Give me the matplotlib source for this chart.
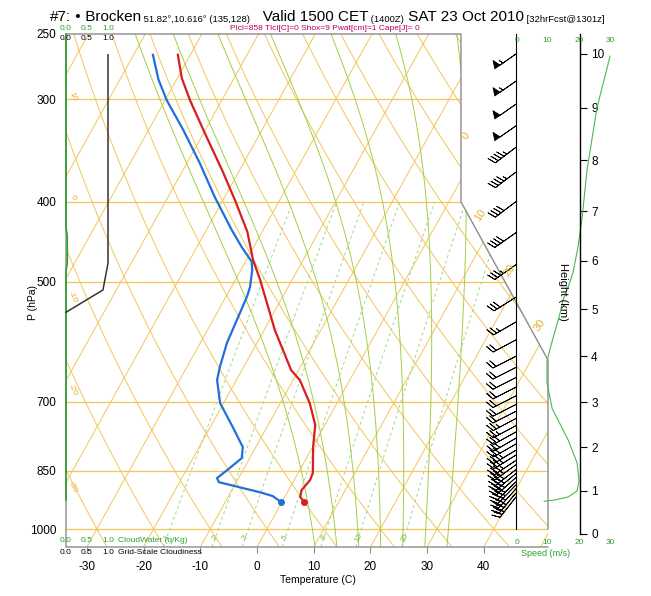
"""Skew-T sounding, Brocken, 23 Oct 2010 (model forecast)."""
import numpy as np
import matplotlib.pyplot as plt
from matplotlib.patches import Polygon
from matplotlib.ticker import NullLocator

plt.rcParams['font.family'] = ['Liberation Sans', 'DejaVu Sans']

W, H = 651, 596
SKEW = 35.0
P_BOT, P_TOP = 1051.7, 250.0
X_LEFT, X_RIGHT = -35.45, 49.56

# temperature profile (hPa, C)
temp_p = [265, 283, 301, 334, 366, 398, 435, 471, 498, 573, 641, 659, 703,
          747, 795, 855, 872, 897, 914, 927]
temp_c = [-62.2, -59.2, -55.6, -49.0, -43.1, -37.9, -32.6, -28.8, -25.6,
          -18.1, -11.3, -8.8, -4.8, -1.7, 0.1, 2.6, 2.8, 2.3, 2.7, 3.9]

# dewpoint profile (hPa, C)
dew_p = [265, 284, 301, 327, 359, 395, 433, 454, 473, 484, 508, 522, 557,
         594, 635, 659, 703, 752, 795, 820, 848, 867, 877, 884, 902, 912, 927]
dew_c = [-66.6, -63.2, -59.7, -53.9, -47.7, -41.7, -35.5, -32.1, -28.9,
         -28.0, -26.7, -26.3, -25.8, -25.3, -24.2, -23.4, -20.6, -16.0,
         -12.3, -11.4, -12.8, -13.8, -13.1, -10.8, -4.9, -2.2, -0.2]

# grid-scale cloudiness and cloud water (hPa, fraction / g/kg)
cloud_p = [265, 475, 512, 545]
cloud_frac = [1.0, 1.0, 0.88, 0.0]
cw_p = [250, 430, 440, 475, 485, 922]
cw_val = [0.0, 0.0, 0.03, 0.03, 0.0, 0.0]

# wind speed profile (km, m/s)
wind_z = [9.96, 9.0, 8.43, 7.81, 6.84, 6.29, 5.75, 5.46, 5.19, 4.92, 4.15,
          3.89, 3.43, 2.86, 2.16, 1.64, 1.24, 1.0, 0.86, 0.79, 0.76]
wind_spd = [29.4, 25.3, 23.8, 22.2, 20.6, 19.4, 17.8, 16.3, 14.7, 13.8, 10.6,
            9.7, 9.7, 11.3, 16.3, 19.1, 19.7, 19.1, 16.3, 12.2, 8.8]

# wind barbs (km, kt, deg)
barb_z = [10.0, 9.5, 9.07, 8.66, 8.25, 7.77, 7.19, 6.57, 5.92, 5.25, 4.73,
          4.35, 4.0, 3.76, 3.54, 3.33, 3.14, 2.95, 2.8, 2.64, 2.48, 2.34,
          2.2, 2.07, 1.93, 1.82, 1.7, 1.6, 1.49, 1.4, 1.31, 1.21, 1.14,
          1.05, 0.95, 0.86]
barb_kt = [55, 53, 51, 50, 45, 45, 42, 40, 37, 32, 27, 22, 20, 19, 19, 19,
           20, 21, 22, 24, 26, 28, 30, 32, 34, 35, 36, 37, 38, 38, 38, 38,
           38, 37, 35, 31]
barb_dir = [235, 235, 235, 235, 233, 233, 233, 235, 235, 238, 240, 242, 243,
            243, 243, 243, 243, 243, 243, 242, 242, 241, 240, 240, 239, 238,
            236, 234, 232, 230, 228, 226, 224, 222, 220, 218]

# background
isobars = [300, 400, 500, 700, 850, 1000]
mix_ratios = [1, 2, 3, 5, 8, 12, 20]
theta_w = [8, 12, 16, 20, 24, 28, 32]
p_ticks = [250, 300, 400, 500, 700, 850, 1000]
t_ticks = [-30, -20, -10, 0, 10, 20, 30, 40]
z_ticks = list(range(11))

YELLOW = '#f2c65a'
GREEN = '#2ca02c'


def skew_x(t, p):
    return np.asarray(t, float) + SKEW * np.log(1000.0 / np.asarray(p, float))


def fxy(x, y):
    return x / W, 1 - y / H


def moist_rate(t, p):
    tk = t + 273.15
    es = 6.112 * np.exp(17.67 * t / (t + 243.5))
    rs = 0.622 * es / (p - es)
    return (287.0 * tk + 2.5e6 * rs) / (
        p * (1004.0 + 2.5e6 ** 2 * rs * 0.622 / (287.0 * tk ** 2)))


def moist_adiabat(t0, p_end, n=150):
    ps = np.linspace(1000.0, p_end, n)
    ts = [np.asarray(t0, float)]
    for p1, p2 in zip(ps[:-1], ps[1:]):
        t = ts[-1]
        k1 = moist_rate(t, p1)
        k2 = moist_rate(t + k1 * (p2 - p1), p2)
        ts.append(t + 0.5 * (k1 + k2) * (p2 - p1))
    return ps, np.array(ts)


def mix_dewpoint(w, p):
    e = w * p / (622.0 + w)
    a = np.log(e / 6.112)
    return 243.5 * a / (17.67 - a)


def z_to_lnp(z):
    z = np.asarray(z, float)
    return -np.log(1013.25 * np.clip(1 - 0.0225577 * z, 1e-6, None) ** 5.25588)


def lnp_to_z(y):
    y = np.asarray(y, float)
    return (1 - (np.exp(-y) / 1013.25) ** (1 / 5.25588)) / 0.0225577


fig = plt.figure(figsize=(6.51, 5.96), dpi=100)
ax = fig.add_axes([66 / W, 1 - 547 / H, 482 / W, 513 / H])
ax.set_yscale('log')
ax.set_ylim(P_BOT, P_TOP)
ax.set_xlim(X_LEFT, X_RIGHT)
for s in ax.spines.values():
    s.set_visible(False)
ax.set_yticks(p_ticks)
ax.set_yticklabels([str(p) for p in p_ticks])
ax.yaxis.set_minor_locator(NullLocator())
ax.tick_params(axis='y', length=0, pad=7, labelsize=8.5)
ax.set_xticks(skew_x(t_ticks, P_BOT))
ax.set_xticklabels([str(t) for t in t_ticks])
ax.tick_params(axis='x', length=4, color='#888888', pad=6, labelsize=8.5)

box_x = [X_LEFT, 34.21, 34.21, X_RIGHT, X_RIGHT, X_LEFT]
box_p = [P_TOP, P_TOP, 400, 623, P_BOT, P_BOT]
clip = Polygon(list(zip(box_x, box_p)), closed=True, transform=ax.transData,
               facecolor='none', edgecolor='none')
ax.add_patch(clip)

p_line = np.geomspace(P_BOT, P_TOP, 200)
lines = []
for t in range(-110, 60, 10):
    lines += ax.plot(skew_x(t, p_line), p_line, color=YELLOW, lw=0.7)
for th in range(-60, 160, 10):
    tt = (th + 273.15) * (p_line / 1000.0) ** 0.2857 - 273.15
    lines += ax.plot(skew_x(tt, p_line), p_line, color=YELLOW, lw=0.7)
for p in isobars:
    lines += ax.plot([X_LEFT, X_RIGHT], [p, p], color=YELLOW, lw=0.9)

for p_end in (P_TOP, P_BOT):
    ps, ts = moist_adiabat(theta_w, p_end)
    for i in range(len(theta_w)):
        lines += ax.plot(skew_x(ts[:, i], ps), ps, color='#a2cf45', lw=0.7)

p_mix = np.geomspace(P_BOT, 400, 60)
for w in mix_ratios:
    lines += ax.plot(skew_x(mix_dewpoint(w, p_mix), p_mix), p_mix,
                     color='#a6d482', lw=0.7, dashes=(3, 3))
    pl = 1023.0
    ax.text(skew_x(mix_dewpoint(w, pl), pl), pl, str(w), color='#6cbf3a',
            size=5.5, rotation=65, ha='center', va='center', clip_on=False)
for ln in lines:
    ln.set_clip_path(clip)

ax.plot([X_RIGHT, X_RIGHT, 34.21, 34.21, X_LEFT, X_LEFT, X_RIGHT],
        [1000, 623, 400, P_TOP, P_TOP, P_BOT, P_BOT],
        color='#8c8c8c', lw=1.0, clip_on=False, zorder=3)

ax.plot(skew_x(temp_c, temp_p), temp_p, color='#d81e1e', lw=1.6,
        marker='o', ms=4, markevery=[len(temp_p) - 1], zorder=5)
ax.plot(skew_x(dew_c, dew_p), dew_p, color='#2070d8', lw=1.6,
        marker='o', ms=4, markevery=[len(dew_p) - 1], zorder=5)

# cloud columns on the left
ax_c = fig.add_axes([66 / W, 1 - 547 / H, 42 / W, 513 / H], sharey=ax)
ax_c.set_xlim(0, 1)
ax_c.axis('off')
ax_c.plot(cw_val, cw_p, color=GREEN, lw=1.2, clip_on=False)
ax_c.plot(cloud_frac, cloud_p, color='#333333', lw=1.1, clip_on=False)

# wind speed / height column on the right
ax_s = fig.add_axes([516 / W, 1 - 547 / H, 96 / W, 513 / H])
ax_s.set_xlim(0, 30)
ax_s.set_yscale('function', functions=(z_to_lnp, lnp_to_z))
z_top = float(lnp_to_z(-np.log(P_TOP)))
ax_s.set_ylim(float(lnp_to_z(-np.log(P_BOT))), z_top)
ax_s.patch.set_visible(False)
for side in ('top', 'bottom', 'left'):
    ax_s.spines[side].set_visible(False)
ax_s.spines['right'].set_position(('data', 20))
ax_s.spines['right'].set_bounds(0, z_top)
ax_s.spines['right'].set_linewidth(1.0)
ax_s.yaxis.tick_right()
ax_s.set_yticks(z_ticks)
ax_s.set_yticklabels([str(z) for z in z_ticks])
ax_s.yaxis.set_minor_locator(NullLocator())
ax_s.tick_params(axis='y', length=5, pad=3, labelsize=8.5)
ax_s.set_xticks([])

ax_s.plot([0, 0], [float(lnp_to_z(-np.log(1000.0))), z_top], color='k',
          lw=0.8, clip_on=False)
ax_s.plot(wind_spd, wind_z, color='#4cb84c', lw=0.8, clip_on=False)
rad = np.deg2rad(barb_dir)
u = -np.array(barb_kt) * np.sin(rad)
v = -np.array(barb_kt) * np.cos(rad)
ax_s.barbs(np.zeros(len(barb_z)), barb_z, u, v, length=6.1, lw=0.6,
           sizes=dict(spacing=0.14, height=0.3, width=0.25),
           color='k', clip_on=False)

# text
title = [("#7:", 11), (" \u2022", 11), (" Brocken", 11),
         (" 51.82\u00b0,10.616\u00b0 (135,128)", 6.8),
         ("   Valid 1500 CET", 11), (" (1400Z)", 6.8),
         (" SAT 23 Oct 2010", 11), (" [32hrFcst@1301z]", 6.8)]
prev = fig.text(*fxy(50, 24), title[0][0], size=title[0][1], va='bottom')
for s, sz in title[1:]:
    prev = ax.annotate(s, xy=(1, 0), xycoords=prev, size=sz, va='bottom')

fig.text(*fxy(325, 29), "Plcl=858 Tlcl[C]=0 Shox=9 Pwat[cm]=1 Cape[J]= 0",
         color='#b8005e', size=6, ha='center', va='center')
fig.text(*fxy(318, 580), "Temperature (C)", size=7.5, ha='center',
         va='center')
fig.text(*fxy(33, 303), "P (hPa)", size=7.5, rotation=90, ha='center',
         va='center')
fig.text(*fxy(563, 292), "Height (km)", size=8, rotation=-90, ha='center',
         va='center')

for lab, x in zip(["0.0", "0.5", "1.0"], [66, 87, 108]):
    fig.text(*fxy(x, 28), lab, color=GREEN, size=6, ha='center', va='center')
    fig.text(*fxy(x, 39), lab, color='k', size=6, ha='center', va='center')
    fig.text(*fxy(x, 541), lab, color=GREEN, size=6, ha='center',
             va='center')
    fig.text(*fxy(x, 552), lab, color='k', size=6, ha='center', va='center')
fig.text(*fxy(118, 541), "CloudWater (q/Kg)", color=GREEN, size=6,
         va='center')
fig.text(*fxy(118, 552), "Grid-Scale Cloudiness", color='k', size=6,
         va='center')

for lab, x in zip(["0", "10", "20", "30"], [517, 547, 579, 610]):
    fig.text(*fxy(x, 40), lab, color=GREEN, size=6, ha='center', va='center')
    fig.text(*fxy(x, 543), lab, color=GREEN, size=6, ha='center',
             va='center')
fig.text(*fxy(546, 553), "Speed (m/s)", color=GREEN, size=6.5, ha='center',
         va='center')

for lab, y in zip(["10", "0", "-10", "-20", "-30"], [97, 198, 297, 390, 487]):
    fig.text(*fxy(73, y), lab, color='#e8b030', size=6, rotation=-65,
             ha='center', va='center')
for lab, x, y in [("0", 466, 136), ("10", 480, 215), ("20", 510, 270),
                  ("30", 540, 325)]:
    fig.text(*fxy(x, y), lab, color='#e8b030', size=8, rotation=55,
             ha='center', va='center')

fig.savefig('out.png', dpi=100)
